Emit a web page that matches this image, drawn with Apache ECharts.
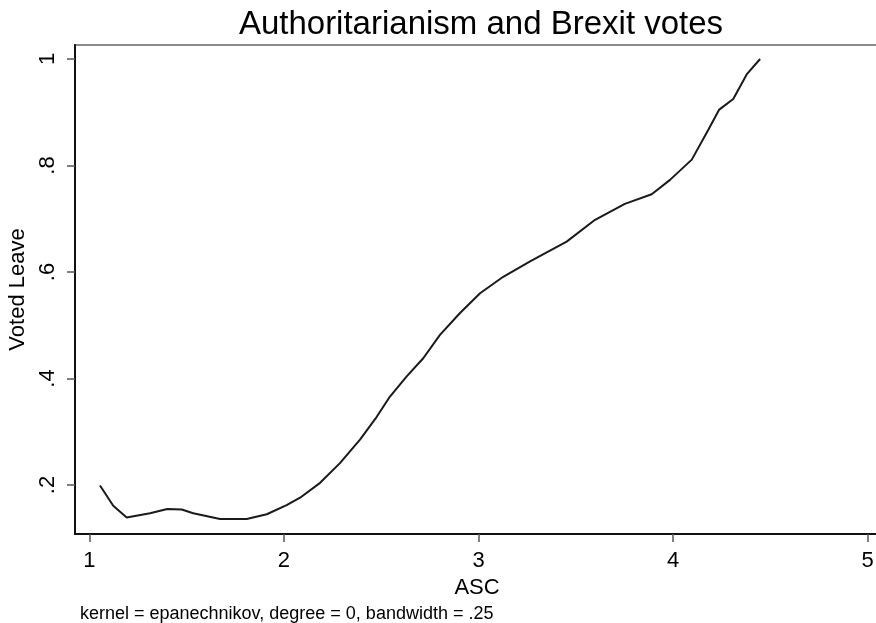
<!DOCTYPE html>
<html>
<head>
<meta charset="utf-8">
<script src="https://cdn.jsdelivr.net/npm/echarts@6/dist/echarts.min.js"></script>
<style>
  html, body { margin: 0; padding: 0; background: #fff; }
  #main { width: 876px; height: 623px; }
</style>
</head>
<body>
<div id="main"></div>
<script>
// lpoly smooth of Voted Leave on ASC
var ascValues = [1.055, 1.123, 1.192, 1.312, 1.401, 1.475, 1.534, 1.672, 1.809, 1.912,
  2.014, 2.083, 2.186, 2.288, 2.391, 2.477, 2.545, 2.631, 2.716, 2.802,
  2.905, 3.008, 3.127, 3.265, 3.453, 3.599, 3.752, 3.890, 3.984, 4.096,
  4.181, 4.237, 4.309, 4.378, 4.447];
var leaveShare = [0.199, 0.161, 0.139, 0.147, 0.155, 0.154, 0.147, 0.136, 0.136, 0.145,
  0.162, 0.176, 0.204, 0.241, 0.285, 0.328, 0.366, 0.404, 0.438, 0.482,
  0.523, 0.560, 0.591, 0.620, 0.657, 0.698, 0.728, 0.746, 0.773, 0.811,
  0.867, 0.905, 0.925, 0.971, 1.000];
var xTicks = [1, 2, 3, 4, 5];
var yTicks = [0.2, 0.4, 0.6, 0.8, 1];

var font = "'Liberation Sans', Arial, sans-serif";

var points = ascValues.map(function (x, i) { return [x, leaveShare[i]]; });

var myChart = echarts.init(document.getElementById('main'));

var option = {
  backgroundColor: '#fff',
  animation: false,
  title: {
    text: 'Authoritarianism and Brexit votes',
    left: 476,
    top: 3,
    textAlign: 'center',
    textStyle: { fontFamily: font, fontSize: 33, fontWeight: 'normal', color: '#000' }
  },
  graphic: [{
    type: 'text',
    left: 80,
    top: 605,
    style: {
      text: 'kernel = epanechnikov, degree = 0, bandwidth = .25',
      font: '18px ' + font,
      fill: '#000'
    }
  }],
  grid: {
    left: 75, right: -3, top: 45, bottom: 89,
    outerBoundsMode: 'none',
    containLabel: false,
    show: true, borderColor: '#8a8a8a', borderWidth: 2
  },
  xAxis: {
    type: 'value',
    min: 0.9265,
    max: 5.058,
    name: 'ASC',
    nameLocation: 'middle',
    nameGap: 40,
    nameTextStyle: { fontFamily: font, fontSize: 22, color: '#000' },
    axisLine: { lineStyle: { color: '#111', width: 2 } },
    axisTick: { customValues: xTicks, length: 8, lineStyle: { color: '#555', width: 1.5 } },
    axisLabel: {
      customValues: xTicks, margin: 16,
      fontFamily: font, fontSize: 22, color: '#000'
    },
    splitLine: { show: false }
  },
  yAxis: {
    type: 'value',
    min: 0.1079,
    max: 1.0263,
    name: 'Voted Leave',
    nameLocation: 'middle',
    nameGap: 39,
    nameTextStyle: { fontFamily: font, fontSize: 22, color: '#000' },
    axisLine: { lineStyle: { color: '#111', width: 2 } },
    axisTick: { customValues: yTicks, length: 8, lineStyle: { color: '#555', width: 1.5 } },
    axisLabel: {
      customValues: yTicks, rotate: 90, margin: 16,
      fontFamily: font, fontSize: 22, color: '#000',
      formatter: function (v) { return v >= 1 ? '1' : String(Math.round(v * 10) / 10).replace(/^0/, ''); }
    },
    splitLine: { show: false }
  },
  series: [{
    type: 'line',
    data: points,
    showSymbol: false,
    smooth: false,
    lineStyle: { color: '#1a1a1a', width: 2 }
  }]
};

option && myChart.setOption(option);
</script>
</body>
</html>
